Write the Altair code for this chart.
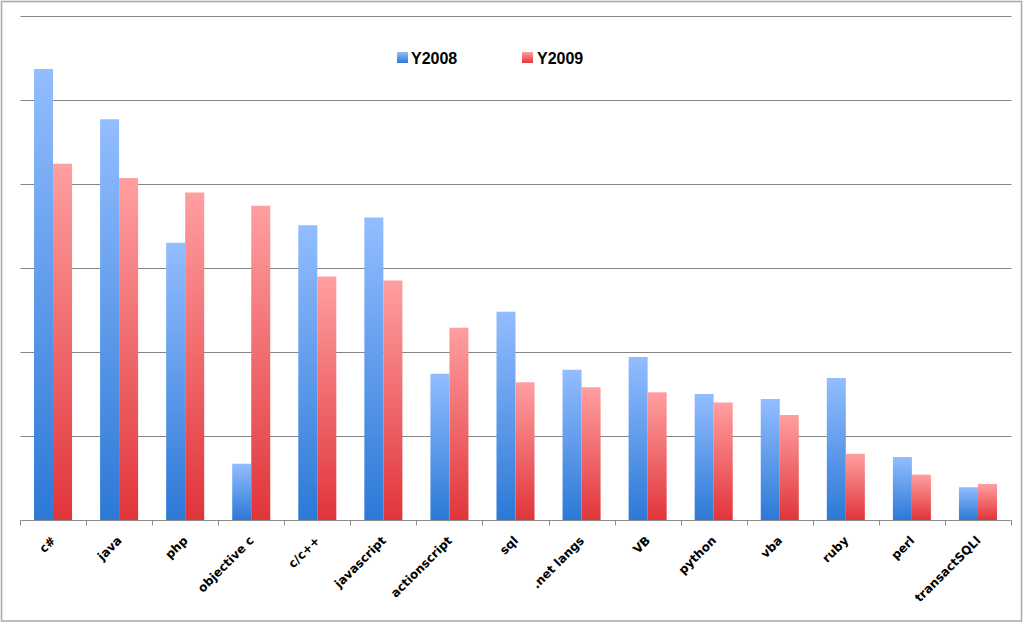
import altair as alt
import pandas as pd

languages = ["c#", "java", "php", "objective c", "c/c++", "javascript", "actionscript",
             "sql", ".net langs", "VB", "python", "vba", "ruby", "perl", "transactSQLl"]
y2008 = [53.7, 47.7, 33.0, 6.7, 35.1, 36.0, 17.4, 24.8, 17.9, 19.4, 15.0, 14.4, 16.9, 7.5, 3.9]
y2009 = [42.4, 40.7, 39.0, 37.4, 29.0, 28.5, 22.9, 16.4, 15.8, 15.2, 14.0, 12.5, 7.9, 5.4, 4.3]
series = ["Y2008", "Y2009"]

rows = []
for lang, a, b in zip(languages, y2008, y2009):
    rows.append({"lang": lang, "year": series[0], "value": a})
    rows.append({"lang": lang, "year": series[1], "value": b})
df = pd.DataFrame(rows)

grad_blue = {"gradient": "linear", "x1": 0, "y1": 0, "x2": 0, "y2": 1,
             "stops": [{"offset": 0, "color": "#93bdff"}, {"offset": 1, "color": "#2c79d6"}]}
grad_red = {"gradient": "linear", "x1": 0, "y1": 0, "x2": 0, "y2": 1,
            "stops": [{"offset": 0, "color": "#ff9fa0"}, {"offset": 1, "color": "#e0353a"}]}

W, H = 991, 504
FONT = "DejaVu Sans"

bars = alt.Chart(df).mark_bar(strokeWidth=0).encode(
    x=alt.X("lang:N", sort=languages, title=None,
            scale=alt.Scale(paddingInner=0, paddingOuter=0),
            axis=alt.Axis(labelAngle=-45, labelAlign="right", labelBaseline="middle",
                          labelFont=FONT, labelFontWeight="bold", labelFontSize=12,
                          labelColor="#000000", labelPadding=13,
                          tickBand="extent", tickSize=5, tickColor="#8c8c8c",
                          domainColor="#8c8c8c", grid=False, labelOverlap=False)),
    xOffset=alt.XOffset("year:N", scale=alt.Scale(domain=series, paddingInner=0, paddingOuter=0.737)),
    y=alt.Y("value:Q", title=None, scale=alt.Scale(domain=[0, 60], nice=False),
            axis=alt.Axis(values=[10, 20, 30, 40, 50, 60], labels=False, ticks=False,
                          domain=False, grid=True, gridColor="#858585", gridWidth=1.2)),
    fill=alt.condition(alt.datum.year == "Y2008", alt.value(grad_blue), alt.value(grad_red)),
)

leg_blue = alt.Chart(pd.DataFrame({"a": [0]})).mark_rect(fill=grad_blue).encode(
    x=alt.value(377), x2=alt.value(388), y=alt.value(36), y2=alt.value(47))
leg_red = alt.Chart(pd.DataFrame({"a": [0]})).mark_rect(fill=grad_red).encode(
    x=alt.value(502), x2=alt.value(513), y=alt.value(36), y2=alt.value(47))
leg_t1 = alt.Chart(pd.DataFrame({"t": [series[0]]})).mark_text(
    align="left", baseline="middle", font="Liberation Sans", fontWeight="bold", fontSize=16,
    color="#000000").encode(x=alt.value(391), y=alt.value(42.5), text="t:N")
leg_t2 = alt.Chart(pd.DataFrame({"t": [series[1]]})).mark_text(
    align="left", baseline="middle", font="Liberation Sans", fontWeight="bold", fontSize=16,
    color="#000000").encode(x=alt.value(517), y=alt.value(42.5), text="t:N")

border = alt.Chart(pd.DataFrame({"a": [0]})).mark_rect(
    fill=None, stroke="#a8a8a8", strokeWidth=1.5, clip=False).encode(
    x=alt.value(-18.5), x2=alt.value(1001.5), y=alt.value(-14.5), y2=alt.value(605))

chart = alt.layer(bars, leg_blue, leg_red, leg_t1, leg_t2, border).properties(
    width=W, height=H,
    autosize=alt.AutoSizeParams(type="none"),
    padding={"left": 20, "top": 16, "right": 13, "bottom": 104},
    background="white",
).configure_view(stroke=None)

chart.save("out.html", embed_options={"renderer": "svg", "actions": False})
